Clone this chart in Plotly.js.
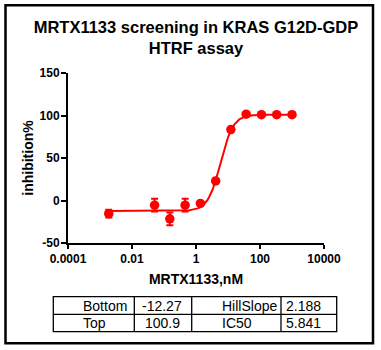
<!DOCTYPE html>
<html>
<head>
<meta charset="utf-8">
<script src="https://cdn.plot.ly/plotly-3.0.1.min.js"></script>
<style>
  html, body { margin: 0; padding: 0; background: #ffffff; }
  #chart { width: 381px; height: 350px; }
</style>
</head>
<body>
<div id="chart"></div>
<script>
// ---- Data ----
const concentrationsNM = [0.00188, 0.0508, 0.152, 0.457, 1.37, 4.12, 12.3, 37.0, 111, 333, 1000];
const inhibitionPct    = [-15.5, -5.5, -21.5, -5.5, -3.5, 23.0, 83.5, 101.5, 101.0, 101.0, 101.0];
const inhibitionErr    = [4.5, 7.5, 7.5, 7.5, 0, 0, 0, 0, 0, 0, 0];

// Fit parameters shown in the chart's table (4-parameter logistic)
const paramNamesLeft   = ["Bottom", "Top"];
const paramValuesLeft  = [-12.27, 100.9];
const paramNamesRight  = ["HillSlope", "IC50"];
const paramValuesRight = [2.188, 5.841];

const xTickValues = [0.0001, 0.01, 1, 100, 10000];
const xTickLabels = ["0.0001", "0.01", "1", "100", "10000"];
const yTickValues = [-50, 0, 50, 100, 150];
const yTickLabels = ["-50", "0", "50", "100", "150"];

// ---- Fitted curve from the displayed fit parameters ----
const fitBottom = paramValuesLeft[0], fitTop = paramValuesLeft[1];
const fitHill = paramValuesRight[0], fitIC50 = paramValuesRight[1];
const curveX = [], curveY = [];
const logLo = Math.log10(Math.min(...concentrationsNM)), logHi = Math.log10(Math.max(...concentrationsNM));
for (let i = 0; i <= 200; i++) {
  const lx = logLo + (logHi - logLo) * i / 200;
  const xv = Math.pow(10, lx);
  curveX.push(xv);
  curveY.push(fitBottom + (fitTop - fitBottom) / (1 + Math.pow(fitIC50 / xv, fitHill)));
}

// ---- Layout geometry ----
const W = 381, H = 350, ML = 68, MR = 57, MT = 73, MB = 107;
const PW = W - ML - MR, PH = H - MT - MB;
const fx = px => (px - ML) / PW;          // pixel -> paper x
const fy = py => 1 - (py - MT) / PH;      // pixel -> paper y

const RED = "#ff0000";
const FONT = "Liberation Sans, Arial, Helvetica, sans-serif";

const traces = [
  {
    type: "scatter", mode: "lines",
    x: curveX, y: curveY,
    line: { color: RED, width: 2 },
    hoverinfo: "skip", showlegend: false
  },
  {
    type: "scatter", mode: "markers",
    x: concentrationsNM, y: inhibitionPct,
    marker: { color: RED, size: 9.5 },
    error_y: { type: "data", array: inhibitionErr, visible: true, color: RED, thickness: 2, width: 3.5 },
    showlegend: false
  }
];

// Table shapes
const tX = [53.3, 134.3, 191.7, 281, 336.7];
const tY = [296.7, 314.3, 331.7];
const shapes = [];
const lineStyle = { color: "#000000", width: 1.3 };
// outer frame of the whole figure
shapes.push({ type: "rect", xref: "paper", yref: "paper",
  x0: fx(5.5), x1: fx(373), y0: fy(5.3), y1: fy(343.3),
  line: { color: "#000000", width: 2.5 }, fillcolor: "rgba(0,0,0,0)", layer: "above" });
// table rectangle
shapes.push({ type: "rect", xref: "paper", yref: "paper",
  x0: fx(tX[0]), x1: fx(tX[4]), y0: fy(tY[0]), y1: fy(tY[2]),
  line: lineStyle, fillcolor: "rgba(0,0,0,0)" });
for (let i = 1; i < 4; i++) {
  shapes.push({ type: "line", xref: "paper", yref: "paper",
    x0: fx(tX[i]), x1: fx(tX[i]), y0: fy(tY[0]), y1: fy(tY[2]), line: lineStyle });
}
shapes.push({ type: "line", xref: "paper", yref: "paper",
  x0: fx(tX[0]), x1: fx(tX[4]), y0: fy(tY[1]), y1: fy(tY[1]), line: lineStyle });

// Table text
const rowCenters = [305.5, 323];
const annotations = [];
const cellFont = { family: FONT, size: 14, color: "#000000" };
for (let r = 0; r < 2; r++) {
  annotations.push({ xref: "paper", yref: "paper", x: fx(81), y: fy(rowCenters[r]),
    xanchor: "left", yanchor: "middle", showarrow: false, text: paramNamesLeft[r], font: cellFont });
  annotations.push({ xref: "paper", yref: "paper", x: fx(162), y: fy(rowCenters[r]),
    xanchor: "center", yanchor: "middle", showarrow: false, text: String(paramValuesLeft[r]), font: cellFont });
  annotations.push({ xref: "paper", yref: "paper", x: fx(220), y: fy(rowCenters[r]),
    xanchor: "left", yanchor: "middle", showarrow: false, text: paramNamesRight[r], font: cellFont });
  annotations.push({ xref: "paper", yref: "paper", x: fx(284), y: fy(rowCenters[r]),
    xanchor: "left", yanchor: "middle", showarrow: false, text: String(paramValuesRight[r]), font: cellFont });
}

const layout = {
  width: W, height: H,
  margin: { l: ML, r: MR, t: MT, b: MB, pad: 0 },
  paper_bgcolor: "#ffffff", plot_bgcolor: "#ffffff",
  showlegend: false,
  title: {
    text: "MRTX1133 screening in KRAS G12D-GDP<br>HTRF assay",
    font: { family: FONT, size: 16.5, weight: "bold", color: "#000000" },
    xref: "paper", x: 0.5, xanchor: "center",
    yref: "container", y: 1 - 33 / H, yanchor: "top"
  },
  xaxis: {
    type: "log", range: [-4, 4],
    tickmode: "array", tickvals: xTickValues, ticktext: xTickLabels,
    ticks: "outside", ticklen: 4, tickwidth: 2, tickcolor: "#000",
    showline: true, linewidth: 2, linecolor: "#000", mirror: false,
    showgrid: false, zeroline: false,
    tickfont: { family: FONT, size: 12, weight: "bold", color: "#000" },
    title: { text: "MRTX1133,nM", standoff: 9,
      font: { family: FONT, size: 14, weight: "bold", color: "#000" } }
  },
  yaxis: {
    range: [-50, 150],
    tickmode: "array", tickvals: yTickValues, ticktext: yTickLabels,
    ticks: "outside", ticklen: 5, tickwidth: 2, tickcolor: "#000",
    ticklabelstandoff: -1,
    showline: true, linewidth: 2, linecolor: "#000",
    showgrid: false, zeroline: false,
    tickfont: { family: FONT, size: 12, weight: "bold", color: "#000" },
    title: { text: "inhibition%", standoff: 3,
      font: { family: FONT, size: 14, weight: "bold", color: "#000" } }
  },
  shapes: shapes,
  annotations: annotations
};

Plotly.newPlot("chart", traces, layout, { displayModeBar: false, staticPlot: true });
</script>
</body>
</html>
